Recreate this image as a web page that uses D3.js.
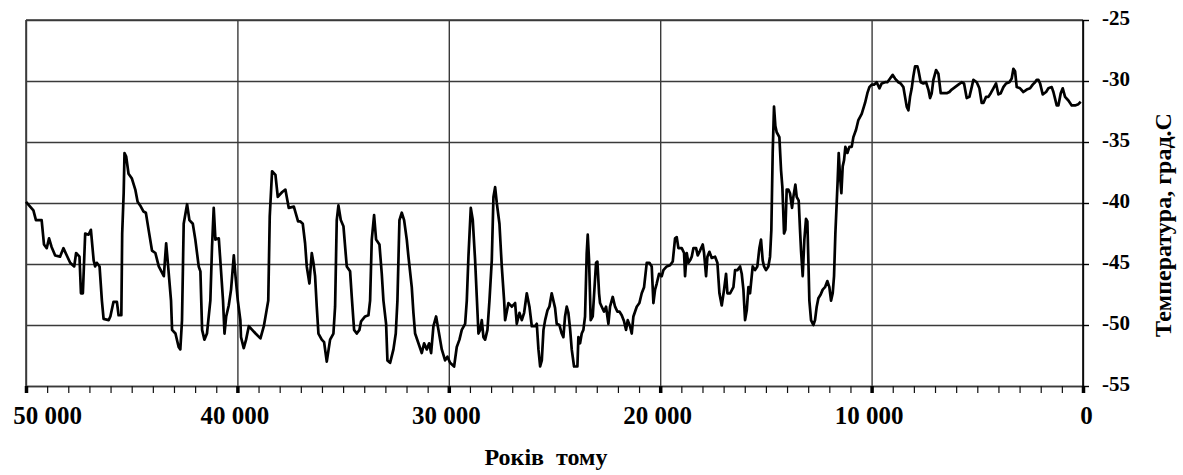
<!DOCTYPE html>
<html>
<head>
<meta charset="utf-8">
<script src="https://cdn.jsdelivr.net/npm/d3@7/dist/d3.min.js"></script>
<style>
  html, body { margin: 0; padding: 0; background: #fff; }
  svg { display: block; }
  text { font-family: "Liberation Serif", "Times New Roman", serif; font-weight: bold; fill: #000; }
</style>
</head>
<body>
<div id="chart"></div>
<script>
// years before present
const years = [
  50000,49650,49530,49260,49150,49020,48910,48790,48620,48390,48230,48070,47910,47720,47630,47470,47400,47310,47200,47040,
  46930,46800,46730,46650,46520,46410,46330,46090,46010,45860,45700,45620,45490,45450,45380,45340,45260,45150,44990,44830,
  44720,44600,44440,44330,44200,44040,43880,43720,43480,43370,43290,43140,43090,42930,42780,42700,42620,42540,42460,42380,
  42270,42110,41990,41830,41750,41670,41560,41440,41280,41200,41120,41040,40880,40800,40680,40610,40530,40410,40300,40170,
  40090,39980,39860,39830,39700,39590,39460,39300,39140,38910,38750,38620,38540,38470,38360,38200,38090,37880,37730,37570,
  37330,37130,37035,36908,36798,36719,36593,36482,36404,36325,36246,36167,36009,35899,35773,35615,35458,35379,35300,35221,
  35110,34984,34827,34669,34590,34480,34354,34227,34149,33959,33802,33723,33644,33534,33439,33281,33171,33092,32966,32903,
  32777,32619,32509,32430,32335,32225,32114,31988,31909,31752,31673,31594,31436,31278,31168,31042,30931,30837,30727,30600,
  30490,30332,30175,30064,29938,29749,29623,29496,29386,29228,29149,29071,28960,28866,28755,28676,28597,28519,28440,28361,
  28282,28172,28077,27967,27888,27809,27730,27604,27494,27383,27336,27178,27020,26863,26784,26658,26547,26437,26311,26185,
  26074,25917,25838,25759,25680,25601,25522,25443,25333,25242,25132,25053,24974,24895,24769,24658,24580,24501,24422,24343,
  24264,24185,24075,23917,23870,23791,23712,23634,23555,23476,23428,23365,23287,23192,23113,23034,22971,22892,22845,22766,
  22656,22561,22451,22372,22246,22135,22025,21930,21820,21710,21615,21536,21426,21347,21268,21110,20984,20874,20763,20637,
  20511,20401,20322,20243,20164,20054,19927,19849,19691,19533,19407,19297,19218,19139,18981,18871,18824,18745,18666,18587,
  18508,18429,18303,18224,18114,17988,17925,17830,17767,17672,17562,17404,17294,17199,17089,16979,16884,16821,16695,16537,
  16458,16348,16222,16143,16064,15985,15906,15827,15751,15625,15514,15404,15309,15231,15152,15089,14994,14884,14805,14742,
  14679,14616,14552,14489,14363,14284,14221,14142,14079,14016,13937,13859,13764,13701,13606,13543,13449,13386,13338,13259,
  13181,13102,13039,12991,12944,12865,12755,12676,12597,12518,12408,12313,12203,12092,11998,11919,11840,11777,11714,11651,
  11604,11556,11493,11430,11367,11304,11241,11146,11052,10941,10862,10736,10626,10468,10310,10200,10105,9995,9885,9758,
  9632,9522,9364,9254,9127,9001,8891,8733,8623,8497,8418,8339,8260,8181,8102,8024,7945,7834,7787,7677,
  7551,7424,7314,7235,7156,7077,6951,6841,6730,6604,6447,6321,6210,6052,5895,5737,5627,5501,5374,5264,
  5185,5027,4901,4791,4712,4586,4475,4365,4239,4113,4002,3892,3766,3640,3482,3372,3293,3214,3135,2977,
  2820,2662,2504,2378,2267,2189,2110,2031,1905,1747,1637,1479,1400,1243,1164,1053,959,848,691,533,
  375,218,107
];
// temperature, deg C
const temps = [
  -39.9,-40.6,-41.4,-41.4,-43.4,-43.7,-42.9,-43.6,-44.3,-44.4,-43.7,-44.3,-44.9,-45.2,-44.1,-44.4,-47.4,-47.4,-42.5,-42.6,
  -42.2,-44.7,-45.2,-44.9,-45.2,-48.0,-49.5,-49.6,-49.3,-48.1,-48.1,-49.2,-49.2,-42.5,-39.2,-35.9,-36.2,-37.6,-38.0,-38.9,
  -39.9,-40.2,-40.7,-40.8,-42.2,-43.9,-44.1,-45.2,-46.0,-43.3,-44.9,-48.0,-50.4,-50.7,-51.8,-52.0,-49.6,-41.7,-40.9,-40.1,
  -41.4,-41.7,-43.0,-45.2,-45.6,-50.4,-51.2,-50.7,-48.0,-43.6,-40.4,-43.0,-42.9,-44.9,-48.0,-50.7,-49.3,-48.4,-47.1,-44.3,
  -46.0,-48.0,-49.6,-51.0,-51.9,-51.2,-50.1,-50.4,-50.7,-51.1,-50.1,-48.8,-48.0,-41.1,-37.4,-37.7,-39.5,-39.1,-38.9,-40.4,
  -40.3,-41.5,-41.5,-41.7,-43.3,-45.2,-46.6,-44.1,-44.9,-46.0,-48.5,-50.7,-51.2,-51.4,-53.0,-51.2,-50.7,-48.5,-41.4,-40.2,
  -41.4,-41.9,-45.2,-45.6,-47.7,-50.4,-50.7,-50.4,-49.7,-49.3,-49.2,-48.0,-43.0,-41.0,-43.0,-43.4,-45.8,-48.0,-49.9,-52.9,
  -53.1,-52.0,-50.7,-48.0,-41.4,-40.8,-41.4,-43.0,-44.4,-46.9,-49.0,-50.7,-51.5,-52.3,-51.5,-52.0,-51.5,-52.3,-50.1,-49.3,
  -50.4,-52.0,-52.9,-52.6,-53.1,-53.4,-51.8,-51.2,-50.4,-49.9,-48.0,-44.4,-40.4,-41.4,-44.7,-47.7,-50.7,-50.4,-49.6,-51.0,
  -51.2,-50.4,-48.0,-44.7,-39.5,-38.7,-40.0,-41.7,-45.2,-48.0,-49.6,-48.2,-48.5,-48.2,-49.9,-49.0,-49.6,-49.0,-47.4,-48.5,
  -50.1,-50.1,-49.9,-52.0,-53.4,-52.9,-50.4,-49.6,-48.8,-48.5,-47.4,-48.0,-48.6,-49.9,-50.0,-50.7,-51.0,-49.3,-48.5,-49.0,
  -50.3,-52.0,-53.4,-53.4,-51.0,-51.5,-50.7,-50.4,-49.3,-44.1,-42.6,-44.7,-49.6,-49.3,-47.1,-44.9,-44.8,-47.4,-48.2,-48.5,
  -48.9,-48.5,-49.9,-48.5,-47.7,-48.5,-48.9,-48.9,-49.2,-49.7,-50.4,-49.6,-50.1,-50.7,-49.3,-48.5,-48.2,-47.4,-46.9,-44.9,
  -44.9,-45.2,-48.2,-47.1,-46.6,-45.8,-46.0,-45.5,-45.2,-45.1,-44.8,-42.9,-42.8,-43.7,-43.7,-44.1,-46.0,-44.1,-44.9,-44.7,
  -44.4,-43.7,-43.7,-44.3,-43.9,-43.4,-44.1,-46.0,-44.4,-44.0,-44.5,-44.4,-44.9,-47.4,-48.4,-47.1,-45.8,-47.4,-47.4,-46.9,
  -45.5,-45.5,-45.2,-45.8,-47.1,-49.6,-48.8,-46.9,-47.4,-45.2,-45.5,-45.2,-43.7,-43.0,-44.7,-45.2,-45.5,-45.2,-44.4,-42.2,
  -35.9,-32.1,-33.7,-34.2,-34.6,-37.3,-38.7,-42.5,-42.2,-38.9,-38.9,-39.2,-40.4,-39.5,-38.5,-39.5,-39.8,-42.2,-43.9,-46.0,
  -43.0,-41.3,-41.5,-44.7,-48.0,-49.6,-50.0,-49.6,-48.5,-47.8,-47.5,-47.1,-46.9,-46.4,-46.9,-48.0,-47.4,-46.0,-42.5,-40.0,
  -38.1,-35.9,-37.8,-39.2,-37.0,-36.5,-35.4,-35.9,-35.4,-35.4,-34.6,-34.0,-33.2,-32.7,-31.8,-31.0,-30.5,-30.3,-30.3,-30.1,
  -30.6,-30.2,-30.1,-30.1,-29.8,-29.5,-29.8,-30.1,-30.2,-30.5,-31.3,-32.1,-32.4,-31.3,-30.6,-29.6,-28.8,-28.8,-29.1,-30.1,
  -30.2,-30.1,-30.7,-31.4,-31.0,-29.9,-29.1,-29.4,-31.0,-31.0,-31.0,-30.9,-30.7,-30.5,-30.3,-30.1,-30.2,-31.4,-31.3,-30.5,
  -29.9,-30.1,-30.6,-31.8,-31.8,-31.3,-31.3,-31.0,-30.6,-30.2,-31.1,-31.0,-30.5,-30.2,-30.1,-29.8,-29.0,-29.2,-30.5,-30.6,
  -30.9,-30.7,-30.6,-30.3,-30.1,-29.9,-29.9,-30.2,-31.1,-30.9,-30.6,-30.5,-30.9,-32.0,-32.0,-31.0,-30.6,-31.3,-31.6,-32.0,
  -32.0,-31.9,-31.7
];
const tempTicks = [-25, -30, -35, -40, -45, -50, -55];
const yearTicks = [50000, 40000, 30000, 20000, 10000, 0];
const yearLabels = ['50 000', '40 000', '30 000', '20 000', '10 000', '0'];
const xTitle = 'Років  тому';
const yTitle = 'Температура, град.С';

const data = years.map((yr, i) => ({year: yr, t: temps[i]}));

const totalWidth = 1183;
const totalHeight = 475;
const margin = {top: 20, right: 100, bottom: 89, left: 26};
const width = totalWidth - margin.left - margin.right;
const height = totalHeight - margin.top - margin.bottom;

const xScale = d3.scaleLinear().domain([50000, 0]).range([0, width]);
const yScale = d3.scaleLinear().domain([-55, -25]).range([height, 0]);

const svg = d3.select('#chart').append('svg')
  .attr('width', totalWidth)
  .attr('height', totalHeight);
const g = svg.append('g')
  .attr('transform', 'translate(' + margin.left + ',' + margin.top + ')');

// horizontal grid
const gridY = g.append('g').call(d3.axisLeft(yScale).tickValues(tempTicks).tickSize(-width).tickFormat(''));
gridY.select('.domain').remove();
gridY.selectAll('line').attr('stroke', '#3a3a3a').attr('stroke-width', 1.6);

// vertical grid
const gridX = g.append('g').call(d3.axisTop(xScale).tickValues(yearTicks).tickSize(-height).tickFormat(''));
gridX.select('.domain').remove();
gridX.selectAll('line').attr('stroke', '#3a3a3a').attr('stroke-width', 1.4);

// frame: top and left
g.append('line').attr('x1', 0).attr('x2', width).attr('y1', 0).attr('y2', 0)
  .attr('stroke', '#3a3a3a').attr('stroke-width', 1.6);
g.append('line').attr('x1', 0).attr('x2', 0).attr('y1', 0).attr('y2', height)
  .attr('stroke', '#3a3a3a').attr('stroke-width', 1.6);

// bottom axis, minor ticks every 1000 years
const minorAxis = g.append('g').attr('transform', 'translate(0,' + height + ')')
  .call(d3.axisBottom(xScale).tickValues(d3.range(0, 50001, 1000)).tickSize(7).tickFormat(''));
minorAxis.select('.domain').attr('stroke', '#3a3a3a').attr('stroke-width', 1.6);
minorAxis.selectAll('line').attr('stroke', '#111').attr('stroke-width', 1.2);

const majorAxis = g.append('g').attr('transform', 'translate(0,' + height + ')')
  .call(d3.axisBottom(xScale).tickValues(yearTicks).tickSize(7).tickFormat((d, i) => yearLabels[i]));
majorAxis.select('.domain').remove();
majorAxis.selectAll('line').attr('stroke', '#000').attr('stroke-width', 3.5);
majorAxis.selectAll('text')
  .attr('y', 38).attr('dy', 0)
  .attr('x', -3)
  .attr('font-size', 25)
  .attr('font-family', '"Liberation Serif", serif')
  .attr('font-weight', 'bold');
majorAxis.selectAll('.tick').filter(d => d === 50000).select('text').attr('x', 21);
majorAxis.selectAll('.tick').filter(d => d === 0).select('text').attr('x', 3);

// right axis
const rightAxis = g.append('g').attr('transform', 'translate(' + width + ',0)')
  .call(d3.axisRight(yScale).tickValues(tempTicks).tickSize(6).tickPadding(15));
rightAxis.select('.domain').attr('stroke', '#000').attr('stroke-width', 1.6).attr('d', 'M0,0V' + height);
rightAxis.selectAll('line').attr('stroke', '#000').attr('stroke-width', 1.4);
rightAxis.selectAll('text')
  .attr('dy', 4)
  .attr('x', 19)
  .attr('font-size', 21)
  .attr('font-family', '"Liberation Serif", serif')
  .attr('font-weight', 'bold')
  .text(d => '-' + Math.abs(d));

// the series
const line = d3.line().x(d => xScale(d.year)).y(d => yScale(d.t));
g.append('path')
  .datum(data)
  .attr('fill', 'none')
  .attr('stroke', '#000')
  .attr('stroke-width', 2.7)
  .attr('stroke-linejoin', 'round')
  .attr('d', line);

// axis titles
svg.append('text')
  .attr('x', 546).attr('y', 465)
  .attr('text-anchor', 'middle')
  .attr('font-size', 24)
  .style('white-space', 'pre')
  .text(xTitle);

svg.append('text')
  .attr('transform', 'translate(1171,225) rotate(-90)')
  .attr('text-anchor', 'middle')
  .attr('font-size', 24)
  .text(yTitle);
</script>
</body>
</html>
